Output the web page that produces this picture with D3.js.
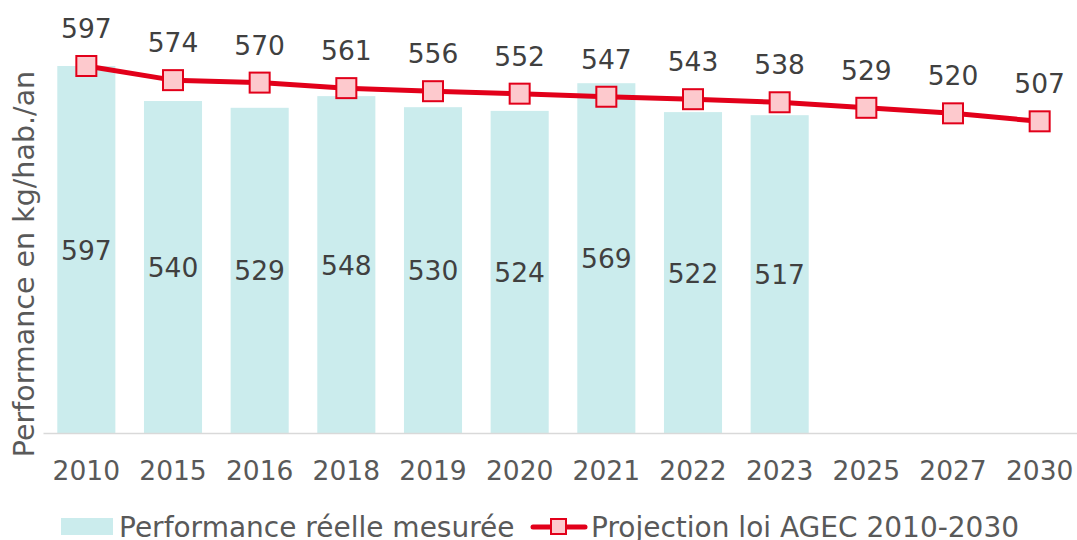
<!DOCTYPE html>
<html>
<head>
<meta charset="utf-8">
<script src="https://cdn.jsdelivr.net/npm/d3@7"></script>
<style>
  html, body { margin: 0; padding: 0; background: #ffffff; }
  svg { display: block; font-family: "DejaVu Sans", Verdana, sans-serif; }
</style>
</head>
<body>
<svg id="chart" width="1077" height="540"></svg>
<script>
// Years shown on the axis
const years = ["2010", "2015", "2016", "2018", "2019", "2020", "2021", "2022", "2023", "2025", "2027", "2030"];
// Measured performance (kg/hab./an), only up to 2023
const measured = [597, 540, 529, 548, 530, 524, 569, 522, 517, null, null, null];
// AGEC law projection 2010-2030 (kg/hab./an)
const projection = [597, 574, 570, 561, 556, 552, 547, 543, 538, 529, 520, 507];

const seriesNames = ["Performance réelle mesurée", "Projection loi AGEC 2010-2030"];

const svg = d3.select("#chart");
const baseY = 433;

const x = d3.scaleBand()
  .domain(years)
  .range([43, 1083])
  .paddingInner(0.33)
  .paddingOuter(0.165);

const y = d3.scaleLinear()
  .domain([0, 597])
  .range([baseY, 66]);

const barColor = "#cbeced";
const lineColor = "#e2001a";
const markerFill = "#fdc9cd";
const valueColor = "#404040";
const axisColor = "#595959";

// Bars
const barData = years.map((yr, i) => ({ yr, v: measured[i] })).filter(d => d.v != null);
svg.append("g").selectAll("rect")
  .data(barData)
  .join("rect")
  .attr("x", d => x(d.yr))
  .attr("width", x.bandwidth())
  .attr("y", d => y(d.v))
  .attr("height", d => y(0) - y(d.v))
  .attr("fill", barColor);

// Category axis
const xAxis = svg.append("g")
  .attr("transform", `translate(0,${baseY})`)
  .call(d3.axisBottom(x).tickSize(0).tickPadding(28));
xAxis.select(".domain").attr("stroke", "#d9d9d9").attr("stroke-width", 1.5);
xAxis.selectAll("text")
  .attr("fill", axisColor)
  .style("font-size", "26.5px")
  .style("font-family", "'DejaVu Sans', Verdana, sans-serif");

// Bar value labels, centred in each bar
svg.append("g").selectAll("text")
  .data(barData)
  .join("text")
  .attr("x", d => x(d.yr) + x.bandwidth() / 2)
  .attr("y", d => (y(d.v) + y(0)) / 2 + 10)
  .attr("text-anchor", "middle")
  .attr("fill", valueColor)
  .style("font-size", "26.5px")
  .text(d => d.v);

// Projection line
const lineData = years.map((yr, i) => ({ yr, v: projection[i] }));
const cx = d => x(d.yr) + x.bandwidth() / 2;
svg.append("path")
  .datum(lineData)
  .attr("fill", "none")
  .attr("stroke", lineColor)
  .attr("stroke-width", 5)
  .attr("stroke-linejoin", "round")
  .attr("d", d3.line().x(cx).y(d => y(d.v)));

const ms = 20;
svg.append("g").selectAll("rect")
  .data(lineData)
  .join("rect")
  .attr("x", d => cx(d) - ms / 2)
  .attr("y", d => y(d.v) - ms / 2)
  .attr("width", ms)
  .attr("height", ms)
  .attr("fill", markerFill)
  .attr("stroke", lineColor)
  .attr("stroke-width", 2);

// Projection value labels above markers
svg.append("g").selectAll("text")
  .data(lineData)
  .join("text")
  .attr("x", cx)
  .attr("y", d => y(d.v) - 28)
  .attr("text-anchor", "middle")
  .attr("fill", valueColor)
  .style("font-size", "26.5px")
  .text(d => d.v);

// Vertical axis title
svg.append("text")
  .attr("transform", `translate(34,264) rotate(-90)`)
  .attr("text-anchor", "middle")
  .attr("fill", axisColor)
  .style("font-size", "28.5px")
  .text("Performance en kg/hab./an");

// Legend
const leg = svg.append("g");
leg.append("rect")
  .attr("x", 61).attr("y", 518)
  .attr("width", 52).attr("height", 17)
  .attr("fill", barColor);
leg.append("text")
  .attr("x", 119).attr("y", 537)
  .attr("fill", axisColor)
  .style("font-size", "28px")
  .text(seriesNames[0]);
leg.append("line")
  .attr("x1", 533).attr("x2", 585)
  .attr("y1", 527).attr("y2", 527)
  .attr("stroke", lineColor).attr("stroke-width", 5)
  .attr("stroke-linecap", "round");
leg.append("rect")
  .attr("x", 551).attr("y", 519)
  .attr("width", 15).attr("height", 15)
  .attr("fill", markerFill)
  .attr("stroke", lineColor).attr("stroke-width", 2);
leg.append("text")
  .attr("x", 591).attr("y", 537)
  .attr("fill", axisColor)
  .style("font-size", "28px")
  .text(seriesNames[1]);
</script>
</body>
</html>
